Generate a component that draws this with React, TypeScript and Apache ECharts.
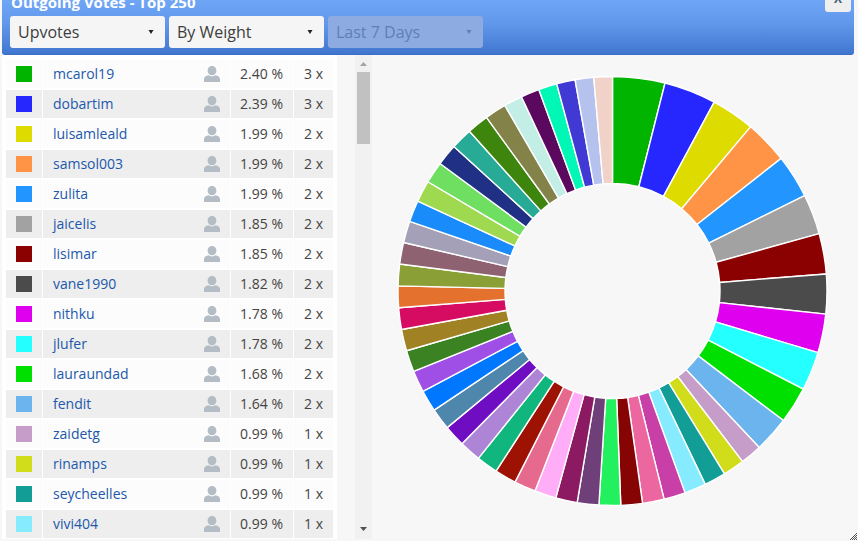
import React, { useEffect, useRef } from "react";
import * as echarts from "echarts";

const title = "Outgoing Votes - Top 250";
const dropdowns = ["Upvotes", "By Weight", "Last 7 Days"];
const names = ["mcarol19", "dobartim", "luisamleald", "samsol003", "zulita", "jaicelis", "lisimar", "vane1990", "nithku", "jlufer", "lauraundad", "fendit", "zaidetg", "rinamps", "seycheelles", "vivi404"];
const shares = [2.40, 2.39, 1.99, 1.99, 1.99, 1.85, 1.85, 1.82, 1.78, 1.78, 1.68, 1.64, 0.99, 0.99, 0.99, 0.99];
const counts = [3, 3, 2, 2, 2, 2, 2, 2, 2, 2, 2, 2, 1, 1, 1, 1];
const listedColors = ["#00b400", "#2626ff", "#dddb00", "#ff9346", "#2295ff", "#a2a2a2", "#8b0000", "#4b4b4b", "#df00ef", "#24ffff", "#00e000", "#6cb4ee", "#c69cc8", "#d1dc1a", "#129e96", "#87ebff"];
const hiddenShares = [0.99, 0.99, 0.99, 0.99, 0.99, 0.99, 0.99, 0.99, 0.99, 0.99, 0.99, 0.99, 0.99, 0.99, 0.99, 0.99, 0.99, 0.99, 0.99, 0.99, 0.99, 0.99, 0.99, 0.99, 0.99, 0.99, 0.99, 0.99, 0.99, 0.85, 0.85, 0.85, 0.85, 0.85, 0.85];
const hiddenColors = ["#c83fa8", "#ec679f", "#870404", "#22f05e", "#6f3f7a", "#8b1a62", "#ffadf7", "#e66a8e", "#9e1203", "#10b67e", "#ae85d6", "#6f0dc3", "#4f86ab", "#0077ff", "#a04fe6", "#3b8223", "#a08224", "#d60c62", "#e4722e", "#8a9f36", "#8f6272", "#a3a0b8", "#1a8bfa", "#9fd94f", "#6fdf62", "#1f3085", "#27aa96", "#3e850d", "#838249", "#c3eee6", "#5b095f", "#00f7b5", "#4039d4", "#b5c2ee", "#f1d2c9"];

const FONT = '"Open Sans", sans-serif';
const PERSON = "M8 0C10.4 0 12.4 2.1 12.4 4.7C12.4 7.3 10.4 9.2 8 9.2C5.6 9.2 3.6 7.3 3.6 4.7C3.6 2.1 5.6 0 8 0ZM4.6 9.3C5.6 10 6.7 10.4 8 10.4C9.3 10.4 10.4 10 11.4 9.3C14 9.6 16 11 16 13.2L16 16L0 16L0 13.2C0 11 2 9.6 4.6 9.3Z";
echarts.graphic.registerShape("person", echarts.graphic.extendPath(PERSON, {}));

function txt(text: string, x: number, y: number, size: number, fill: string, align = "left", weight = "normal") {
  return {
    type: "text",
    x,
    y,
    silent: true,
    style: { text, fill, font: `${weight} ${size}px ${FONT}`, textAlign: align, textVerticalAlign: "middle" },
  };
}
function rect(x: number, y: number, width: number, height: number, fill: any, r = 0) {
  return { type: "rect", silent: true, shape: { x, y, width, height, r }, style: { fill } };
}
function tri(cx: number, cy: number, w: number, h: number, fill: string, up = false) {
  const pts = up
    ? [[cx - w / 2, cy + h / 2], [cx + w / 2, cy + h / 2], [cx, cy - h / 2]]
    : [[cx - w / 2, cy - h / 2], [cx + w / 2, cy - h / 2], [cx, cy + h / 2]];
  return { type: "polygon", silent: true, shape: { points: pts }, style: { fill } };
}

function buildGraphics() {
  const els: any[] = [];
  // left panel
  els.push(rect(2, 55, 335, 484, "#ffffff"));
  // header
  els.push(rect(2, -6, 852, 61, {
    type: "linear", x: 0, y: 0, x2: 0, y2: 1,
    colorStops: [{ offset: 0, color: "#73a9f9" }, { offset: 0.5, color: "#6097ea" }, { offset: 0.97, color: "#4277d0" }, { offset: 1, color: "#356bc6" }],
  }, 3));
  els.push(txt(title, 11, 2, 15, "#ffffff", "left", "bold"));
  // close button
  els.push(rect(825, -4, 26, 16, "#efefef", 3));
  els.push(txt("X", 838, -2, 12, "#45607f", "center", "bold"));
  // dropdowns
  const ddX = [10, 169, 328];
  dropdowns.forEach((d, i) => {
    const off = i === 2;
    els.push(rect(ddX[i], 16, 155, 32, off ? "#8dabe1" : "#f5f5f5", 3));
    els.push(txt(d, ddX[i] + 8, 32, 16, off ? "#5d7fb8" : "#3d3d3d"));
    els.push(tri(ddX[i] + 141, 32, 5, 4, off ? "#5d7fb8" : "#222222"));
  });
  // table rows
  names.forEach((n, i) => {
    const y = 60 + i * 30;
    const bg = i % 2 === 0 ? "#fcfcfc" : "#eeeeee";
    els.push(rect(6, y, 36, 28, bg));
    els.push(rect(43, y, 187, 28, bg));
    els.push(rect(231, y, 62, 28, bg));
    els.push(rect(294, y, 39, 28, bg));
    els.push(rect(16, y + 6, 16, 16, listedColors[i]));
    els.push(txt(n, 53, y + 13, 14, "#2158ab"));
    els.push({ type: "person", x: 204, y: y + 6, silent: true, style: { fill: "#b4bdc5" } });
    els.push(txt(`${shares[i].toFixed(2)} %`, 283, y + 13, 14, "#444444", "right"));
    els.push(txt(`${counts[i]} x`, 323, y + 13, 14, "#444444", "right"));
  });
  // scrollbar
  els.push(rect(355, 55, 17, 484, "#f1f1f1"));
  els.push(rect(357, 72, 13, 72, "#c1c1c1"));
  els.push(tri(363.5, 64, 7, 4, "#a3a3a3", true));
  els.push(tri(363.5, 529, 7, 4, "#505050"));
  // resize handle
  for (let k = 0; k < 4; k++) {
    els.push({
      type: "line", silent: true,
      shape: { x1: 850 + k * 2, y1: 540, x2: 857, y2: 533 + k * 2 },
      style: { stroke: "#555555", lineWidth: 1 },
    });
  }
  return els;
}

export default function App() {
  const ref = useRef<HTMLDivElement>(null);
  useEffect(() => {
    const chart = echarts.init(ref.current!, null, { renderer: "svg" });
    const values = [...shares, ...hiddenShares];
    const colors = [...listedColors, ...hiddenColors];
    chart.setOption({
      animation: false,
      backgroundColor: "#f7f7f7",
      graphic: { elements: buildGraphics() },
      series: [
        {
          type: "pie",
          center: [612.5, 291],
          radius: [107.5, 214.5],
          startAngle: 90,
          clockwise: true,
          silent: true,
          label: { show: false },
          labelLine: { show: false },
          itemStyle: { borderColor: "#ffffff", borderWidth: 1.4 },
          data: values.map((v, i) => ({
            value: v,
            name: names[i] ?? `other ${i - names.length + 1}`,
            itemStyle: { color: colors[i] },
          })),
        },
      ],
    });
    return () => chart.dispose();
  }, []);
  return <div ref={ref} style={{ position: "absolute", left: 0, top: 0, width: 858, height: 541 }} />;
}
